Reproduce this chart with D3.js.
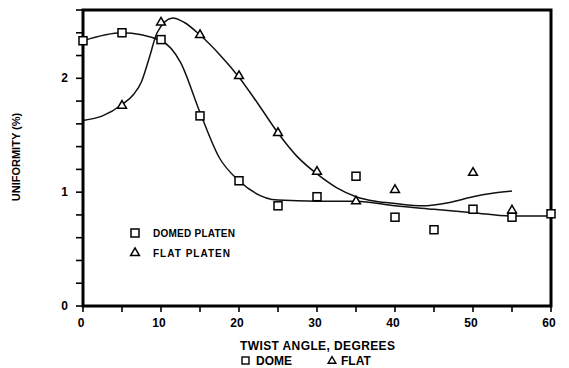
<!DOCTYPE html>
<html lang="en">
<head>
  <meta charset="UTF-8">
  <title>Uniformity vs Twist Angle</title>
  <script src="https://d3js.org/d3.v7.min.js"></script>
  <style>
    body { margin: 0; background: #fff; }
    svg { display: block; font-family: 'Liberation Sans', 'DejaVu Sans', sans-serif; font-weight: bold; }
  </style>
</head>
<body>
  <svg width="569" height="368"></svg>
  <script>
    // measured points
    const domeAngle = [0, 5, 10, 15, 20, 25, 30, 35, 40, 45, 50, 55, 60];
    const domeUnif  = [2.33, 2.40, 2.34, 1.67, 1.10, 0.88, 0.96, 1.14, 0.78, 0.67, 0.85, 0.78, 0.81];
    const flatAngle = [5, 10, 15, 20, 25, 30, 35, 40, 50, 55];
    const flatUnif  = [1.76, 2.49, 2.38, 2.02, 1.52, 1.18, 0.92, 1.02, 1.17, 0.84];

    // fitted curves
    const domeFitX = [0, 5, 10, 12.5, 15, 17.5, 20, 25, 30, 35, 40, 45, 50, 55, 60];
    const domeFitY = [2.33, 2.40, 2.33, 2.14, 1.70, 1.30, 1.10, 0.93, 0.92, 0.92, 0.88, 0.85, 0.82, 0.79, 0.79];
    const flatFitX = [0, 2.5, 5, 6.5, 7.5, 8.5, 9.5, 11.5, 13, 15, 17.5, 20, 22.5, 25, 27.5, 30, 32.5, 35, 37.5, 40, 43.5, 47, 50, 52.5, 55];
    const flatFitY = [1.63, 1.67, 1.77, 1.86, 1.97, 2.18, 2.40, 2.53, 2.49, 2.38, 2.21, 2.01, 1.77, 1.52, 1.31, 1.16, 1.04, 0.96, 0.92, 0.90, 0.88, 0.91, 0.96, 0.99, 1.01];

    const xTicks = [0, 5, 10, 15, 20, 25, 30, 35, 40, 45, 50, 55, 60];
    const xLabels = [0, 10, 20, 30, 40, 50, 60];
    const yTicks = [0, 0.2, 0.4, 0.6, 0.8, 1, 1.2, 1.4, 1.6, 1.8, 2, 2.2, 2.4, 2.6];
    const yLabels = [0, 1, 2];

    const svg = d3.select("svg");
    const x = d3.scaleLinear().domain([0, 60]).range([83, 551]);
    const y = d3.scaleLinear().domain([0, 2.6]).range([306, 10]);

    // curves
    const line = d3.line().x(d => x(d[0])).y(d => y(d[1])).curve(d3.curveMonotoneX);
    svg.append("path")
      .datum(domeFitX.map((v, i) => [v, domeFitY[i]]))
      .attr("d", line).attr("fill", "none").attr("stroke", "#111").attr("stroke-width", 1.5);
    svg.append("path")
      .datum(flatFitX.map((v, i) => [v, flatFitY[i]]))
      .attr("d", line).attr("fill", "none").attr("stroke", "#111").attr("stroke-width", 1.5);

    // frame
    svg.append("rect")
      .attr("x", x(0)).attr("y", y(2.6))
      .attr("width", x(60) - x(0)).attr("height", y(0) - y(2.6))
      .attr("fill", "none").attr("stroke", "#000").attr("stroke-width", 3);

    // ticks
    svg.append("g").selectAll("line").data(yTicks).join("line")
      .attr("x1", x(0) - 7).attr("x2", x(0))
      .attr("y1", d => y(d)).attr("y2", d => y(d))
      .attr("stroke", "#000").attr("stroke-width", 1.6);
    svg.append("g").selectAll("line").data(xTicks).join("line")
      .attr("x1", d => x(d)).attr("x2", d => x(d))
      .attr("y1", y(0)).attr("y2", y(0) + 6)
      .attr("stroke", "#000").attr("stroke-width", 1.6);

    svg.append("g").selectAll("text").data(yLabels).join("text")
      .attr("x", 68).attr("y", d => y(d) + 4)
      .attr("text-anchor", "end").attr("font-size", 12).text(d => d);
    svg.append("g").selectAll("text").data(xLabels).join("text")
      .attr("x", d => x(d) - 2).attr("y", 327)
      .attr("text-anchor", "middle").attr("font-size", 12).text(d => d);

    // markers
    const sq = 8;
    svg.append("g").selectAll("rect").data(domeAngle).join("rect")
      .attr("x", (d, i) => x(d) - sq / 2).attr("y", (d, i) => y(domeUnif[i]) - sq / 2)
      .attr("width", sq).attr("height", sq)
      .attr("fill", "#fff").attr("stroke", "#000").attr("stroke-width", 1.5);
    const tri = d3.symbol().type(d3.symbolTriangle).size(34);
    svg.append("g").selectAll("path").data(flatAngle).join("path")
      .attr("transform", (d, i) => `translate(${x(d)},${y(flatUnif[i])})`)
      .attr("d", tri)
      .attr("fill", "#fff").attr("stroke", "#000").attr("stroke-width", 1.5);

    // legend
    svg.append("rect").attr("x", 131).attr("y", 229).attr("width", 8).attr("height", 8)
      .attr("fill", "none").attr("stroke", "#000").attr("stroke-width", 1.5);
    svg.append("path").attr("transform", "translate(135,253)").attr("d", tri)
      .attr("fill", "none").attr("stroke", "#000").attr("stroke-width", 1.5);
    svg.append("text").attr("x", 153).attr("y", 237).attr("font-size", 10).attr("textLength", 82).text("DOMED PLATEN");
    svg.append("text").attr("x", 153).attr("y", 257).attr("font-size", 10).attr("textLength", 77).text("FLAT PLATEN");

    // axis titles
    svg.append("text")
      .attr("transform", "translate(20,157) rotate(-90)")
      .attr("text-anchor", "middle").attr("font-size", 11).text("UNIFORMITY (%)");
    svg.append("text").attr("x", 240).attr("y", 350)
      .attr("font-size", 12).attr("textLength", 155).text("TWIST ANGLE, DEGREES");
    svg.append("rect").attr("x", 242).attr("y", 357).attr("width", 7).attr("height", 7)
      .attr("fill", "none").attr("stroke", "#000").attr("stroke-width", 1.4);
    svg.append("text").attr("x", 256).attr("y", 365).attr("font-size", 12).text("DOME");
    svg.append("path").attr("transform", "translate(332,361)").attr("d", d3.symbol().type(d3.symbolTriangle).size(26))
      .attr("fill", "none").attr("stroke", "#000").attr("stroke-width", 1.4);
    svg.append("text").attr("x", 341).attr("y", 365).attr("font-size", 12).text("FLAT");
  </script>
</body>
</html>
